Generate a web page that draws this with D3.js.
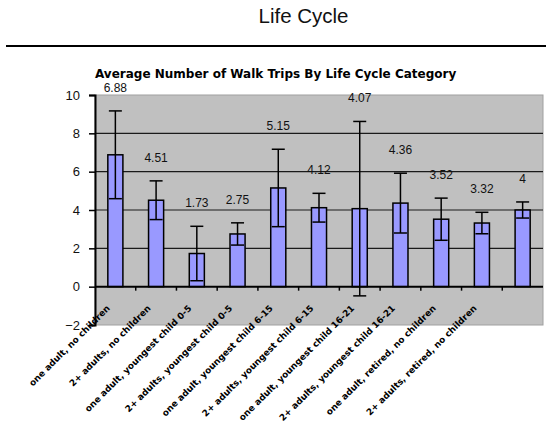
<!DOCTYPE html>
<html>
<head>
<meta charset="utf-8">
<script src="https://cdn.jsdelivr.net/npm/d3@7/dist/d3.min.js"></script>
<style>
  html, body { margin: 0; padding: 0; background: #fff; }
  svg { display: block; }
</style>
</head>
<body>
<svg id="chart" width="546" height="428"></svg>
<script>
// ---- data ----
const categories = [
  "one adult, no children",
  "2+ adults, no children",
  "one adult, youngest child 0-5",
  "2+ adults, youngest child 0-5",
  "one adult, youngest child 6-15",
  "2+ adults, youngest child 6-15",
  "one adult, youngest child 16-21",
  "2+ adults, youngest child 16-21",
  "one adult, retired, no children",
  "2+ adults, retired, no children",
  ""
];
const values = [6.88, 4.51, 1.73, 2.75, 5.15, 4.12, 4.07, 4.36, 3.52, 3.32, 4];
const errors = [2.29, 1.01, 1.42, 0.58, 2.02, 0.75, 4.55, 1.56, 1.10, 0.56, 0.42];
const yTicks = [-2, 0, 2, 4, 6, 8, 10];
const pageTitle = "Life Cycle";
const chartTitle = "Average Number of Walk Trips By Life Cycle Category";

// ---- layout ----
const svg = d3.select("#chart");
const plot = { left: 95, right: 543, top: 95, bottom: 325 };

const x = d3.scaleBand()
  .domain(d3.range(categories.length))
  .range([plot.left, plot.right])
  .padding(0);
const y = d3.scaleLinear().domain([-2, 10]).range([plot.bottom, plot.top]);
const barW = x.bandwidth() * 0.37;
const capW = 13;

// page header
svg.append("text")
  .attr("x", 303.5).attr("y", 23)
  .attr("text-anchor", "middle")
  .style("font-family", "'Liberation Sans', Arial, sans-serif")
  .style("font-size", "20.5px")
  .attr("fill", "#111")
  .text(pageTitle);
svg.append("line")
  .attr("x1", 6).attr("x2", 546).attr("y1", 46).attr("y2", 46)
  .attr("stroke", "#000").attr("stroke-width", 2);

// chart title
svg.append("text")
  .attr("x", 95).attr("y", 78)
  .style("font-family", "'DejaVu Sans', Verdana, sans-serif")
  .style("font-size", "12px")
  .style("font-weight", "bold")
  .attr("fill", "#000")
  .text(chartTitle);

// plot background
svg.append("rect")
  .attr("x", plot.left).attr("y", plot.top)
  .attr("width", plot.right - plot.left).attr("height", plot.bottom - plot.top)
  .attr("fill", "#c0c0c0").attr("stroke", "#a0a0a0").attr("stroke-width", 1);

// gridlines
svg.append("g")
  .selectAll("line")
  .data(yTicks.filter(t => t > -2 && t < 10 && t !== 0))
  .join("line")
  .attr("x1", plot.left).attr("x2", plot.right)
  .attr("y1", d => y(d)).attr("y2", d => y(d))
  .attr("stroke", "#1a1a1a").attr("stroke-width", 1.2);

// bars
svg.append("g")
  .selectAll("rect")
  .data(values)
  .join("rect")
  .attr("x", (d, i) => x(i) + x.bandwidth() / 2 - barW / 2)
  .attr("y", d => y(d))
  .attr("width", barW)
  .attr("height", d => y(0) - y(d))
  .attr("fill", "#9999ff")
  .attr("stroke", "#000").attr("stroke-width", 1.5);

// error bars
const eb = svg.append("g").attr("stroke", "#000").attr("stroke-width", 1.5);
values.forEach((v, i) => {
  const cx = x(i) + x.bandwidth() / 2;
  const hi = v + errors[i], lo = v - errors[i];
  eb.append("line").attr("x1", cx).attr("x2", cx).attr("y1", y(hi)).attr("y2", y(lo));
  eb.append("line").attr("x1", cx - capW / 2).attr("x2", cx + capW / 2).attr("y1", y(hi)).attr("y2", y(hi));
  eb.append("line").attr("x1", cx - capW / 2).attr("x2", cx + capW / 2).attr("y1", y(lo)).attr("y2", y(lo));
});

// value labels
svg.append("g")
  .selectAll("text")
  .data(values)
  .join("text")
  .attr("x", (d, i) => x(i) + x.bandwidth() / 2)
  .attr("y", (d, i) => y(d + errors[i]) - 19)
  .attr("text-anchor", "middle")
  .style("font-family", "'Liberation Sans', Arial, sans-serif")
  .style("font-size", "12px")
  .attr("fill", "#111")
  .text(d => String(d));

// y axis
const yAxis = svg.append("g")
  .attr("transform", `translate(${plot.left},0)`)
  .call(d3.axisLeft(y).tickValues(yTicks).tickSize(6).tickPadding(9).tickFormat(d3.format("d")));
yAxis.select(".domain").attr("stroke-width", 2);
yAxis.selectAll(".tick line").attr("stroke-width", 1.5);
yAxis.selectAll("text")
  .style("font-family", "'Liberation Sans', Arial, sans-serif")
  .style("font-size", "13px")
  .attr("fill", "#111");

// x axis at zero
const xAxis = svg.append("g")
  .attr("transform", `translate(0,${y(0)})`)
  .call(d3.axisBottom(x).tickSize(0).tickFormat(""));
xAxis.select(".domain").attr("stroke-width", 2).attr("d", `M${plot.left},0H${plot.right}`);
xAxis.append("g")
  .selectAll("line")
  .data(d3.range(1, categories.length))
  .join("line")
  .attr("x1", i => x(i)).attr("x2", i => x(i))
  .attr("y1", 0).attr("y2", 4)
  .attr("stroke", "#000").attr("stroke-width", 1.5);

// category labels
svg.append("g")
  .selectAll("text")
  .data(categories)
  .join("text")
  .attr("transform", (d, i) => `translate(${x(i) + x.bandwidth() / 2 - 7},${y(0) + 20}) rotate(-45)`)
  .attr("text-anchor", "end")
  .attr("dy", "0.35em")
  .style("font-family", "'DejaVu Sans', Verdana, sans-serif")
  .style("font-size", "8.9px")
  .style("font-weight", "bold")
  .attr("fill", "#000")
  .text(d => d);
</script>
</body>
</html>
